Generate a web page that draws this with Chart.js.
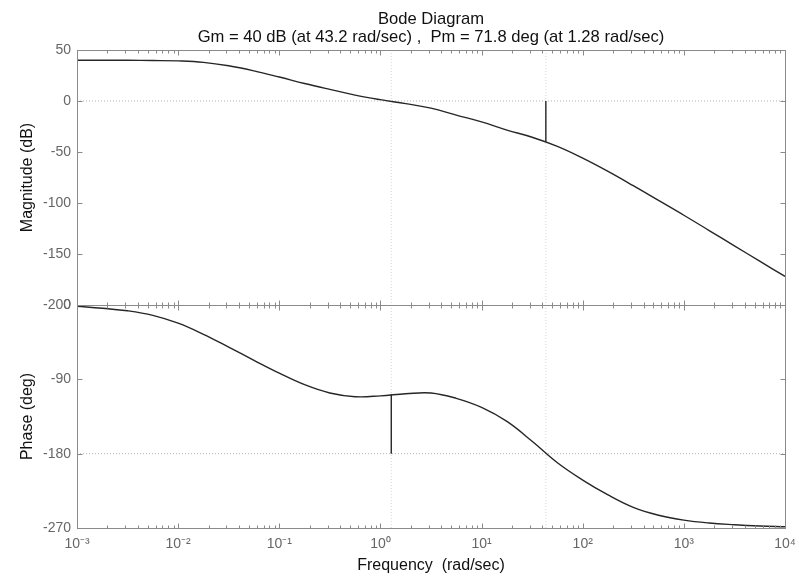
<!DOCTYPE html>
<html><head><meta charset="utf-8">
<script src="https://cdn.jsdelivr.net/npm/chart.js@4"></script>
<style>
html,body{margin:0;padding:0;background:#fff;}
#wrap{position:relative;width:799px;height:579px;overflow:hidden;background:#fff;}
canvas{position:absolute;left:0;top:0;}
#title{position:absolute;left:77px;width:708px;top:10px;text-align:center;font-family:"Liberation Sans",Arial,sans-serif;font-size:16.6px;line-height:18px;color:#111;white-space:pre;}
</style></head><body>
<div id="wrap">
<canvas id="mag" width="799" height="579"></canvas>
<canvas id="phase" width="799" height="579"></canvas>
<div id="title">Bode Diagram
Gm = 40 dB (at 43.2 rad/sec) ,  Pm = 71.8 deg (at 1.28 rad/sec)</div>
</div>
<script>
// ---- data ----
const frequencies = [0.001, 0.00178, 0.00316, 0.00562, 0.01, 0.0178, 0.0316, 0.0562, 0.1, 0.178, 0.316, 0.562, 1, 1.78, 3.16, 5.62, 10, 17.8, 31.6, 56.2, 100, 178, 316, 562, 1000, 1780, 3160, 5620, 10000];
const magnitudeDb = [40, 40, 39.9, 39.7, 39.3, 37.9, 34.5, 29.5, 23.5, 17.2, 11.4, 5.8, 1.3, -2.6, -7, -13.8, -20.5, -28.5, -35.5, -44.5, -56, -69, -83, -97.5, -112, -127, -142, -157, -172];
const phaseDeg = [-1.5, -4, -7, -12.5, -22, -35.5, -51, -67, -82.5, -96.5, -106.5, -111, -110, -107.5, -106.5, -113, -124, -141, -165, -191, -212, -230, -245, -254.5, -260.5, -264, -266, -267.5, -268.5];
const gainMarginDb = 40;
const gainMarginFreq = 43.2;
const phaseMarginDeg = 71.8;
const phaseMarginFreq = 1.28;
const xTickValues = [0.001, 0.01, 0.1, 1, 10, 100, 1000, 10000];
const xTickLabels = ['10⁻³', '10⁻²', '10⁻¹', '10⁰', '10¹', '10²', '10³', '10⁴'];
const magTicks = [50, 0, -50, -100, -150, -200];
const phaseTicks = [0, -90, -180, -270];

const FONT = '"Liberation Sans", Arial, Helvetica, sans-serif';
const CURVE = '#262626';

const framePlugin = {
  id: 'frame',
  afterDraw(chart) {
    const {ctx, chartArea: a, scales} = chart;
    const xs = scales.x, ys = scales.y;
    ctx.save();
    ctx.strokeStyle = '#8a8a8a';
    ctx.lineWidth = 1;
    const L = Math.round(a.left) + 0.5, R = Math.round(a.right) + 0.5;
    const T = Math.round(a.top) + 0.5, B = Math.round(a.bottom) + 0.5;
    ctx.strokeRect(L, T, R - L, B - T);
    ctx.beginPath();
    ys.ticks.forEach(t => {
      const y = Math.round(ys.getPixelForValue(t.value)) + 0.5;
      ctx.moveTo(L, y); ctx.lineTo(L + 5, y);
      ctx.moveTo(R, y); ctx.lineTo(R - 5, y);
    });
    for (let d = -3; d <= 4; d++) {
      for (let k = 1; k <= 9; k++) {
        const v = k * Math.pow(10, d);
        if (v > 10000) break;
        const x = Math.round(xs.getPixelForValue(v)) + 0.5;
        const len = k === 1 ? 5 : 3;
        ctx.moveTo(x, T); ctx.lineTo(x, T + len);
        ctx.moveTo(x, B); ctx.lineTo(x, B - len);
      }
    }
    ctx.stroke();
    ctx.restore();
  }
};

function pts(ys) { return frequencies.map((f, i) => ({x: f, y: ys[i]})); }

function yScale(min, max, ticks, title) {
  return {
    type: 'linear', min: min, max: max,
    afterBuildTicks: s => { s.ticks = ticks.map(v => ({value: v})); },
    ticks: {color: '#666', font: {family: FONT, size: 14}, padding: 6, callback: v => String(v)},
    grid: {display: false, drawTicks: false},
    border: {display: false},
    title: {display: true, text: title, color: '#111', font: {family: FONT, size: 16}, padding: {top: 18, bottom: 0}},
    afterFit: s => { s.width = 77; s.paddingTop = 0; s.paddingBottom = 0; }
  };
}

function xScale(show) {
  return {
    type: 'logarithmic', min: 0.001, max: 10000, display: show,
    afterBuildTicks: s => { s.ticks = xTickValues.map(v => ({value: v})); },
    ticks: {color: '#666', font: {family: FONT, size: 14}, padding: 8, autoSkip: false, maxRotation: 0,
      callback: (v, i) => xTickLabels[i]},
    grid: {display: false, drawTicks: false},
    border: {display: false},
    title: {display: show, text: 'Frequency  (rad/sec)', color: '#111', font: {family: FONT, size: 16}, padding: {top: 0, bottom: 4}},
    afterFit: s => { if (show) s.height = 51; s.paddingLeft = 0; s.paddingRight = 0; }
  };
}

const dotted = {borderColor: '#b5b5b5', borderWidth: 1, borderDash: [1, 2], pointRadius: 0, fill: false, tension: 0};
const faint = {borderColor: '#d6d6d6', borderWidth: 1, borderDash: [1, 2], pointRadius: 0, fill: false, tension: 0};
const curveStyle = {borderColor: CURVE, borderWidth: 1.4, tension: 0.4, pointRadius: 0, fill: false};
const markStyle = {borderColor: CURVE, borderWidth: 1.4, tension: 0, pointRadius: 0, fill: false};

const common = {
  responsive: false, animation: false,
  plugins: {legend: {display: false}, tooltip: {enabled: false}},
  elements: {point: {radius: 0}}
};

new Chart(document.getElementById('mag'), {
  type: 'line',
  data: {datasets: [
    Object.assign({data: pts(magnitudeDb)}, curveStyle),
    Object.assign({data: [{x: gainMarginFreq, y: 0}, {x: gainMarginFreq, y: -gainMarginDb}]}, markStyle),
    Object.assign({data: [{x: 0.001, y: 0}, {x: 10000, y: 0}]}, dotted),
    Object.assign({data: [{x: phaseMarginFreq, y: 50}, {x: phaseMarginFreq, y: -200}]}, faint),
    Object.assign({data: [{x: gainMarginFreq, y: 50}, {x: gainMarginFreq, y: -200}]}, faint)
  ]},
  options: Object.assign({}, common, {
    layout: {padding: {top: 50, left: 0, right: 14, bottom: 274}},
    scales: {x: xScale(false), y: yScale(-200, 50, magTicks, 'Magnitude (dB)')}
  }),
  plugins: [framePlugin]
});

new Chart(document.getElementById('phase'), {
  type: 'line',
  data: {datasets: [
    Object.assign({data: pts(phaseDeg)}, curveStyle),
    Object.assign({data: [{x: phaseMarginFreq, y: -180}, {x: phaseMarginFreq, y: -180 + phaseMarginDeg}]}, markStyle),
    Object.assign({data: [{x: 0.001, y: -180}, {x: 10000, y: -180}]}, dotted),
    Object.assign({data: [{x: phaseMarginFreq, y: 0}, {x: phaseMarginFreq, y: -270}]}, faint),
    Object.assign({data: [{x: gainMarginFreq, y: 0}, {x: gainMarginFreq, y: -270}]}, faint)
  ]},
  options: Object.assign({}, common, {
    layout: {padding: {top: 305, left: 0, right: 14, bottom: 0}},
    scales: {x: xScale(true), y: yScale(-270, 0, phaseTicks, 'Phase (deg)')}
  }),
  plugins: [framePlugin]
});
</script>
</body></html>
